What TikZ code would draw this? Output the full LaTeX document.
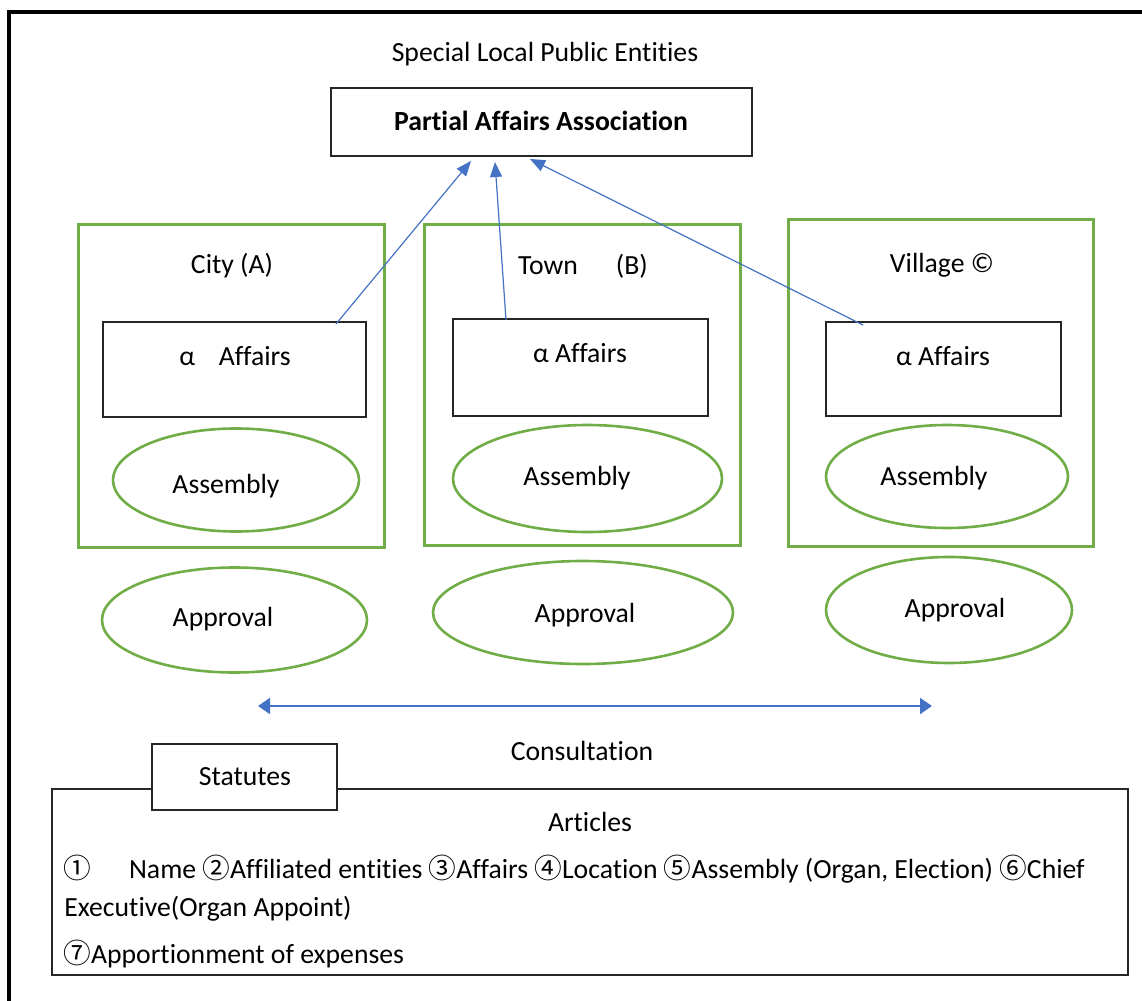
\documentclass[tikz,border=0pt]{standalone}
\usepackage{fontspec}
\setmainfont{Carlito}[Ligatures={NoCommon}]
\newfontfamily\cjk{Noto Sans CJK JP}
\usetikzlibrary{shapes.geometric,arrows.meta}
\definecolor{grn}{HTML}{70AD47}
\definecolor{blu}{HTML}{4472C4}
\definecolor{edge}{HTML}{262626}
\newcommand{\cnum}[1]{{\cjk #1}}
\begin{document}
\begin{tikzpicture}[x=0.5pt,y=-0.5pt,
  every node/.style={font=\fontsize{13.85}{17}\selectfont},
  txt/.style={inner sep=0pt},
  blackbox/.style={draw=edge, line width=0.75pt, fill=white, inner sep=0pt},
  grnbox/.style={draw=grn, line width=1.5pt, inner sep=0pt},
  grnell/.style={ellipse, draw=grn, line width=1.3pt, inner sep=0pt},
  conn/.style={blu, line width=0.6pt, -{Triangle[length=7.5pt,width=6pt]}},
  dblarrow/.style={blu, line width=1pt, {Triangle[length=6pt,width=8pt]}-{Triangle[length=6pt,width=8pt]}}]
\useasboundingbox (0,0) rectangle (1142,1001);
% outer frame
\draw[line width=1.7pt] (9,1020) -- (9,12) -- (1160,12);

% top
\node[txt] (sle) at (545,54) {Special Local Public Entities};
\node[blackbox, minimum width=210.5pt, minimum height=34pt] (paa) at (541.5,122) {};
\node[txt, font=\fontsize{13.85}{17}\selectfont\bfseries] (paat) at (541,121) {Partial Affairs Association};

% green boxes
\node[grnbox, minimum width=153pt, minimum height=161.5pt] (city) at (231,385.5) {};
\node[grnbox, minimum width=158pt, minimum height=160.5pt] (town) at (582,384.5) {};
\node[grnbox, minimum width=152.5pt, minimum height=163.5pt] (vill) at (940.5,382.5) {};
\node[txt] (cityt) at (232,266) {City (A)};
\node[txt] (townt) at (583,266) {Town\hspace{19pt}(B)};
\node[txt] (villt) at (942,265) {Village ©};

% affairs boxes
\node[blackbox, minimum width=131.5pt, minimum height=47.5pt] (caff) at (234.5,369.5) {};
\node[blackbox, minimum width=127.5pt, minimum height=48.5pt] (taff) at (580.5,367.5) {};
\node[blackbox, minimum width=117.5pt, minimum height=47pt] (vaff) at (943.5,369) {};
\node[txt] (cafft) at (235,356) {α\hspace{12pt}Affairs};
\node[txt] (tafft) at (580,353) {α Affairs};
\node[txt] (vafft) at (943,356) {α Affairs};

% assembly ellipses
\node[grnell, minimum width=123pt, minimum height=51.5pt] (cass) at (236,480) {};
\node[grnell, minimum width=134.5pt, minimum height=53.5pt] (tass) at (587.5,478.5) {};
\node[grnell, minimum width=121pt, minimum height=51.5pt] (vass) at (947,476.5) {};
\node[txt] (casst) at (226,486) {Assembly};
\node[txt] (tasst) at (577,478) {Assembly};
\node[txt] (vasst) at (934,478) {Assembly};

% approval ellipses
\node[grnell, minimum width=132.5pt, minimum height=52.5pt] (capp) at (234.5,620) {};
\node[grnell, minimum width=150pt, minimum height=51.5pt] (tapp) at (583,612.5) {};
\node[grnell, minimum width=123pt, minimum height=53pt] (vapp) at (949,610) {};
\node[txt] (cappt) at (223,619) {Approval};
\node[txt] (tappt) at (585,615) {Approval};
\node[txt] (vappt) at (955,610) {Approval};

% arrows to association
\coordinate (cS) at (336,324);
\coordinate (tS) at (506,320);
\coordinate (vS) at (863,325);
\coordinate (cT) at (471,161);
\coordinate (tT) at (495,162);
\coordinate (vT) at (530,159);
\draw[conn] (cS) -- (cT);
\draw[conn] (tS) -- (tT);
\draw[conn] (vS) -- (vT);

% consultation
\coordinate (conL) at (258,706);
\coordinate (conR) at (932,706);
\draw[dblarrow] (conL) -- (conR);
\node[txt] (cons) at (582,751) {Consultation};

% statutes
\node[blackbox, minimum width=538pt, minimum height=93pt] (art) at (590,882) {};
\node[blackbox, minimum width=92.5pt, minimum height=33pt] (stat) at (244.5,777) {};
\node[txt] (statt) at (245,777) {Statutes};
\node[txt] (artt) at (590,822) {Articles};
\node[txt, anchor=west] (l1) at (63,869) {\cnum{①}\hspace{19pt}Name \cnum{②}Affiliated entities \cnum{③}Affairs \cnum{④}Location \cnum{⑤}Assembly (Organ, Election) \cnum{⑥}Chief};
\node[txt, anchor=west] (l2) at (64,909) {Executive(Organ Appoint)};
\node[txt, anchor=west] (l3) at (63,954) {\cnum{⑦}Apportionment of expenses};
\end{tikzpicture}
\end{document}
